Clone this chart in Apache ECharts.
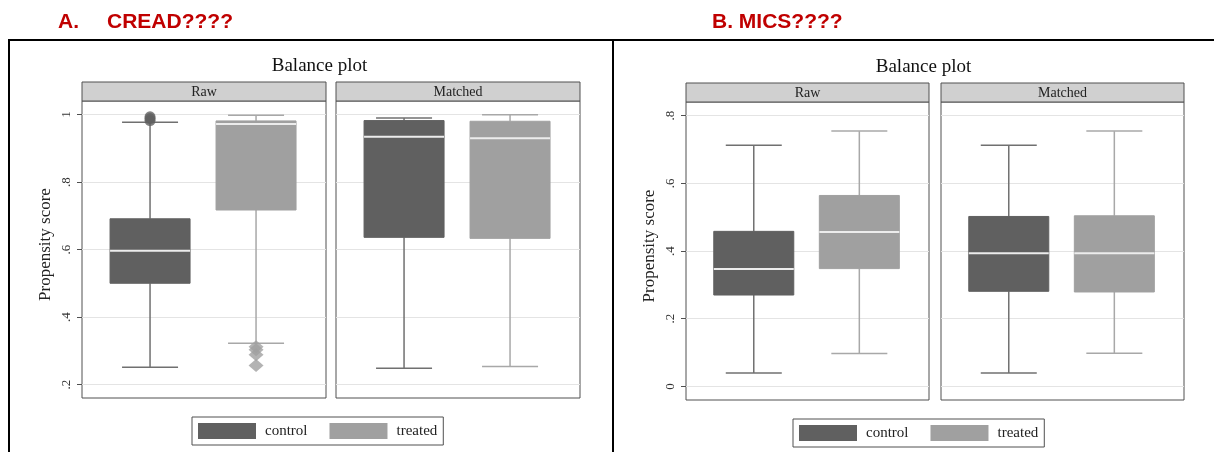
<!DOCTYPE html>
<html><head><meta charset="utf-8">
<script src="https://cdn.jsdelivr.net/npm/echarts@6/dist/echarts.min.js"></script>
<style>html,body{margin:0;padding:0;background:#fff}#c{width:1214px;height:452px}</style>
</head><body><div id="c"></div>
<script>
// ---------------- data ----------------
const facets = ['Raw', 'Matched'];
const groups = ['control', 'treated'];
// box stats: [lower whisker, Q1, median, Q3, upper whisker]
const creadRawControl     = [0.251, 0.500, 0.596, 0.691, 0.977];
const creadRawTreated     = [0.322, 0.717, 0.972, 0.981, 0.998];
const creadMatchedControl = [0.248, 0.636, 0.934, 0.982, 0.990];
const creadMatchedTreated = [0.253, 0.633, 0.930, 0.980, 0.999];
const creadRawControlOutliers = [0.982, 0.988, 0.993];
const creadRawTreatedOutliers = [0.312, 0.303, 0.288, 0.256];
const micsRawControl     = [0.040, 0.270, 0.347, 0.458, 0.712];
const micsRawTreated     = [0.097, 0.348, 0.456, 0.564, 0.754];
const micsMatchedControl = [0.040, 0.281, 0.393, 0.502, 0.712];
const micsMatchedTreated = [0.098, 0.279, 0.393, 0.504, 0.754];
const creadTicks = [0.2, 0.4, 0.6, 0.8, 1];
const creadTickLabels = ['.2', '.4', '.6', '.8', '1'];
const micsTicks = [0, 0.2, 0.4, 0.6, 0.8];
const micsTickLabels = ['0', '.2', '.4', '.6', '.8'];
const panelTitles = ['A.', 'CREAD????', 'B. MICS????'];
const plotTitle = 'Balance plot';
const yTitle = 'Propensity score';

// ---------------- styling / layout ----------------
const SERIF = "'Liberation Serif','DejaVu Serif',serif";
const SANS = "'Liberation Sans','DejaVu Sans',sans-serif";
const fills = ['#606060', '#a0a0a0'];
const whiskers = ['#707070', '#a8a8a8'];
const medianColor = '#ececec';

const panels = [
  { ticks: creadTicks, labels: creadTickLabels, yMin: 0.16, yMax: 1.04, top: 101, h: 297, stripTop: 82,
    lefts: [82, 336], w: 244, titleX: 319.5, titleY: 66,
    boxes: [[creadRawControl, creadRawTreated], [creadMatchedControl, creadMatchedTreated]],
    outliers: [creadRawControlOutliers, creadRawTreatedOutliers] },
  { ticks: micsTicks, labels: micsTickLabels, yMin: -0.04, yMax: 0.84, top: 102, h: 298, stripTop: 83,
    lefts: [686, 941], w: 243, titleX: 923.5, titleY: 67,
    boxes: [[micsRawControl, micsRawTreated], [micsMatchedControl, micsMatchedTreated]],
    outliers: null }
];

function makeRender(fill, wcol) {
  return function (params, api) {
    const x = api.value(0);
    const lo = api.coord([x, api.value(1)]);
    const q1 = api.coord([x, api.value(2)]);
    const md = api.coord([x, api.value(3)]);
    const q3 = api.coord([x, api.value(4)]);
    const hi = api.coord([x, api.value(5)]);
    const cx = lo[0], bw = 80, cw = 56;
    const ln = (x1, y1, x2, y2, c, w) => ({ type: 'line', shape: { x1, y1, x2, y2 }, style: { stroke: c, lineWidth: w } });
    return { type: 'group', children: [
      ln(cx, q1[1], cx, lo[1], wcol, 1.5),
      ln(cx, q3[1], cx, hi[1], wcol, 1.5),
      ln(cx - cw / 2, lo[1], cx + cw / 2, lo[1], wcol, 1.5),
      ln(cx - cw / 2, hi[1], cx + cw / 2, hi[1], wcol, 1.5),
      { type: 'rect', shape: { x: cx - bw / 2, y: q3[1], width: bw, height: q1[1] - q3[1] },
        style: { fill: fill, stroke: fill, lineWidth: 1 } },
      ln(cx - bw / 2, md[1], cx + bw / 2, md[1], medianColor, 2)
    ]};
  };
}

const grid = [], xAxis = [], yAxis = [], series = [], graphic = [];
let k = 0;
panels.forEach((p, pi) => {
  facets.forEach((fname, fi) => {
    grid.push({ left: p.lefts[fi], top: p.top, width: p.w, height: p.h, show: true,
      borderColor: '#505050', borderWidth: 1, backgroundColor: '#fff', outerBoundsMode: 'none' });
    xAxis.push({ type: 'value', gridIndex: k, min: -0.642, max: 1.66, show: false, axisLine: { onZero: false } });
    const isRaw = fi === 0;
    yAxis.push({ type: 'value', gridIndex: k, min: p.yMin, max: p.yMax, position: 'left',
      axisLine: { show: false, onZero: false },
      axisTick: { show: isRaw, customValues: p.ticks, length: 5, lineStyle: { color: '#505050' } },
      axisLabel: { show: isRaw, customValues: p.ticks, rotate: 90, margin: 9,
        fontFamily: SERIF, fontSize: 13, color: '#333',
        formatter: v => { const i = p.ticks.findIndex(t => Math.abs(t - v) < 1e-6); return i >= 0 ? p.labels[i] : ''; } },
      splitLine: { show: true, lineStyle: { color: '#e4e4e4', width: 1 } },
      name: isRaw ? yTitle : '', nameLocation: 'middle', nameGap: 28, nameRotate: 90,
      nameTextStyle: { fontFamily: SERIF, fontSize: 17, color: '#222', padding: [0, 0, 0, 10] }
    });
    groups.forEach((g, gi) => {
      series.push({ type: 'custom', name: g, xAxisIndex: k, yAxisIndex: k,
        itemStyle: { color: fills[gi] }, encode: { x: 0, y: [1, 2, 3, 4, 5] },
        renderItem: makeRender(fills[gi], whiskers[gi]),
        data: [[gi].concat(p.boxes[fi][gi])], silent: true });
    });
    if (isRaw && p.outliers) {
      series.push({ type: 'scatter', name: groups[0], xAxisIndex: k, yAxisIndex: k, symbol: 'circle', symbolSize: 11,
        itemStyle: { color: fills[0] }, data: p.outliers[0].map(v => [0, v]), silent: true });
      series.push({ type: 'scatter', name: groups[1], xAxisIndex: k, yAxisIndex: k, symbol: 'diamond', symbolSize: [15, 13],
        itemStyle: { color: fills[1] }, data: p.outliers[1].map(v => [1, v]), silent: true });
    }
    // facet strip
    graphic.push({ type: 'rect', shape: { x: p.lefts[fi], y: p.stripTop, width: p.w, height: p.top - p.stripTop },
      style: { fill: '#d0d0d0', stroke: '#505050', lineWidth: 1 }, z: 10 });
    graphic.push({ type: 'text', x: p.lefts[fi] + p.w / 2, y: (p.stripTop + p.top) / 2 + 0.5,
      style: { text: fname, fontFamily: SERIF, fontSize: 14, fill: '#222', align: 'center', verticalAlign: 'middle' }, z: 11 });
    k++;
  });
  graphic.push({ type: 'text', x: p.titleX, y: p.titleY,
    style: { text: plotTitle, fontFamily: SERIF, fontSize: 19, fill: '#111', align: 'center', verticalAlign: 'middle' } });
});

// outer frames
const L = (x1, y1, x2, y2) => ({ type: 'line', shape: { x1, y1, x2, y2 }, style: { stroke: '#000', lineWidth: 2 } });
graphic.push(L(9, 40, 9, 452), L(8, 40, 614, 40), L(613, 40, 613, 452), L(613, 40, 1214, 40));

const titleStyle = { color: '#c00000', fontWeight: 'bold', fontSize: 21, fontFamily: SANS };
const legendBase = { data: groups, icon: 'rect', itemWidth: 58, itemHeight: 16, itemGap: 22, orient: 'horizontal',
  padding: [6, 6, 6, 6], borderColor: '#505050', borderWidth: 1, selectedMode: false,
  textStyle: { fontFamily: SERIF, fontSize: 15, color: '#222', padding: [0, 0, 0, 4] } };

const chart = echarts.init(document.getElementById('c'), null, { renderer: 'canvas' });
chart.setOption({
  backgroundColor: '#fff',
  animation: false,
  title: [
    { text: panelTitles[0], left: 58, top: 12, textStyle: titleStyle, padding: 0 },
    { text: panelTitles[1], left: 107, top: 12, textStyle: titleStyle, padding: 0 },
    { text: panelTitles[2], left: 712, top: 12, textStyle: titleStyle, padding: 0 }
  ],
  legend: [Object.assign({ left: 192, top: 417 }, legendBase), Object.assign({ left: 793, top: 419 }, legendBase)],
  grid, xAxis, yAxis, series, graphic
});
</script></body></html>
